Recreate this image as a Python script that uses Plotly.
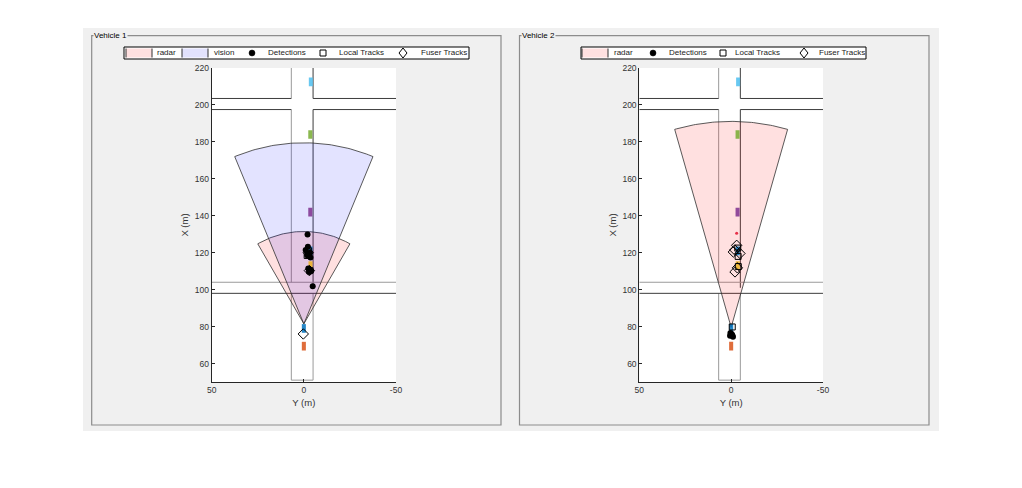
import numpy as np
import plotly.graph_objects as go

W, H = 1022, 488
OFF = 8  # page body margin in the browser

# ---------------- data ----------------
panel_titles = ["Vehicle 1", "Vehicle 2"]
x_ticks = [50, 0, -50]
x_tick_text = ["50", "0", "-50"]
y_ticks = [60, 80, 100, 120, 140, 160, 180, 200, 220]

# road geometry (m)
road_left_y = 6.8
road_right_y = -5.0
cross_a = [197.5, 203.5]
cross_b = [98.0, 104.0]
road_end_x = 51.0

# actors (vehicles): centre X, centre Y, colour
actor_x = [212.5, 184.0, 142.0, 121.0, 113.0, 79.0, 69.4]
actor_y = [-3.8, -3.5, -3.5, -3.6, -3.6, 0.0, 0.0]
actor_colors = ["#4DBEEE", "#77AC30", "#7E2F8E", "#0072BD", "#EDB120", "#0072BD", "#D95319"]
actor_len, actor_wid = 4.7, 2.2

# sensors: apex X, half-FOV (deg), range (m)
v1_radar = dict(x=81.5, half=30.0, rng=50.0)
v1_vision = dict(x=81.5, half=22.5, rng=98.0)
v2_radar = dict(x=79.6, half=16.0, rng=111.5)

# panel 1 marks
det1_x = [129.9, 123.2, 121.5, 120.0, 118.6, 117.4, 111.5, 110.2, 109.5, 101.8]
det1_y = [-2.0, -2.2, -1.0, -3.3, -1.8, -3.6, -2.4, -4.0, -2.9, -4.8]
loc1_x = [121.0, 118.5, 110.4]
loc1_y = [-2.6, -1.8, -3.2]
fus1_x = [120.0, 110.3, 76.0]
fus1_y = [-2.4, -3.0, 0.3]

# panel 2 marks
det2_x = [76.5, 75.5, 75.0, 76.0, 74.5]
det2_y = [0.4, -0.6, 0.6, -0.2, -1.0]
red2_x = [130.5]
red2_y = [-3.0]
loc2_x = [122.5, 118.0, 112.5, 79.8]
loc2_y = [-3.6, -3.8, -3.9, -0.6]
fus2_x = [124.0, 120.4, 119.6, 121.5, 109.6, 111.8]
fus2_y = [-3.0, -1.2, -4.8, -2.0, -2.1, -3.4]

# legend entries per panel
legend1_items = ["radar", "vision", "Detections", "Local Tracks", "Fuser Tracks"]
legend2_items = ["radar", "Detections", "Local Tracks", "Fuser Tracks"]

# ---------------- helpers ----------------
def px(x):
    return (x - OFF) / W

def py(y):
    return 1 - (y - OFF) / H

def sector(s):
    th = np.radians(np.linspace(s["half"], -s["half"], 60))
    xs = [s["x"]] + list(s["x"] + s["rng"] * np.cos(th)) + [s["x"]]
    ys = [0.0] + list(s["rng"] * np.sin(th)) + [0.0]
    return xs, ys

DARK = "#3c3c3c"
LIGHT = "#9a9a9a"
RADAR_FILL = "rgba(255,0,0,0.12)"
VISION_FILL = "rgba(0,0,255,0.11)"
RADAR_SOLID = "#ffe0e0"
VISION_SOLID = "#e2e2fd"

def road_segments():
    L, R = road_left_y, road_right_y
    return [
        ((L, 220), (L, cross_a[1]), LIGHT),
        ((L, cross_a[0]), (L, cross_b[1]), LIGHT),
        ((L, cross_b[0]), (L, road_end_x), LIGHT),
        ((R, 220), (R, cross_a[1]), DARK),
        ((R, cross_a[0]), (R, cross_b[0] + 3), DARK),
        ((R, cross_b[0]), (R, road_end_x), LIGHT),
        ((50, cross_a[1]), (L, cross_a[1]), DARK),
        ((R, cross_a[1]), (-50, cross_a[1]), DARK),
        ((50, cross_a[0]), (L, cross_a[0]), DARK),
        ((R, cross_a[0]), (-50, cross_a[0]), DARK),
        ((50, cross_b[1]), (-50, cross_b[1]), LIGHT),
        ((50, cross_b[0]), (-50, cross_b[0]), DARK),
        ((L, road_end_x), (R, road_end_x), LIGHT),
    ]

fig = go.Figure()
axes = [("x", "y"), ("x2", "y2")]

def add_panel(i, sectors, det, loc, fus, extra=None):
    xa, ya = axes[i]
    for (y0, x0), (y1, x1), c in road_segments():
        fig.add_trace(go.Scatter(x=[y0, y1], y=[x0, x1], mode="lines",
                                 line=dict(color=c, width=1), xaxis=xa, yaxis=ya,
                                 showlegend=False, hoverinfo="skip"))
    for name, s, fc in sectors:
        sx, sy = sector(s)
        fig.add_trace(go.Scatter(x=sy, y=sx, mode="lines", fill="toself",
                                 fillcolor=fc, line=dict(width=0.8, color="#303030"),
                                 name=name, xaxis=xa, yaxis=ya, showlegend=False,
                                 hoverinfo="skip"))
    for cx, cy, col in zip(actor_x, actor_y, actor_colors):
        rx = [cx - actor_len / 2, cx + actor_len / 2, cx + actor_len / 2, cx - actor_len / 2, cx - actor_len / 2]
        ry = [cy - actor_wid / 2, cy - actor_wid / 2, cy + actor_wid / 2, cy + actor_wid / 2, cy - actor_wid / 2]
        fig.add_trace(go.Scatter(x=ry, y=rx, mode="lines", fill="toself",
                                 fillcolor=col, opacity=0.85, line=dict(width=0, color=col),
                                 xaxis=xa, yaxis=ya, showlegend=False, hoverinfo="skip"))
    if extra is not None:
        fig.add_trace(go.Scatter(x=extra[1], y=extra[0], mode="markers",
                                 marker=dict(color="#e8304a", size=3),
                                 xaxis=xa, yaxis=ya, showlegend=False, hoverinfo="skip"))
    fig.add_trace(go.Scatter(x=det[1], y=det[0], mode="markers", name="Detections",
                             marker=dict(symbol="circle", color="black", size=6),
                             xaxis=xa, yaxis=ya, showlegend=False))
    fig.add_trace(go.Scatter(x=loc[1], y=loc[0], mode="markers", name="Local Tracks",
                             marker=dict(symbol="square-open", color="black", size=6,
                                         line=dict(width=1)),
                             xaxis=xa, yaxis=ya, showlegend=False))
    fig.add_trace(go.Scatter(x=fus[1], y=fus[0], mode="markers", name="Fuser Tracks",
                             marker=dict(symbol="diamond-open", color="black", size=8,
                                         line=dict(width=1)),
                             xaxis=xa, yaxis=ya, showlegend=False))

add_panel(0, [("radar", v1_radar, RADAR_FILL), ("vision", v1_vision, VISION_FILL)],
          (det1_x, det1_y), (loc1_x, loc1_y), (fus1_x, fus1_y))
add_panel(1, [("radar", v2_radar, RADAR_FILL)],
          (det2_x, det2_y), (loc2_x, loc2_y), (fus2_x, fus2_y), extra=(red2_x, red2_y))

FONT = "Liberation Sans, Arial, sans-serif"
TXT = "#333333"

x_domains = [[px(211.7), px(396.0)], [px(639.3), px(823.0)]]
y_domain = [py(382), py(68)]

layout = dict(
    width=W, height=H,
    margin=dict(l=0, r=0, t=0, b=0, autoexpand=False),
    paper_bgcolor="white", plot_bgcolor="rgba(0,0,0,0)",
    font=dict(family=FONT, size=9, color=TXT),
    hovermode=False, showlegend=False,
)

for i in range(2):
    sfx = "" if i == 0 else "2"
    layout["xaxis" + sfx] = dict(
        domain=x_domains[i], range=[50, -50], tickvals=x_ticks, ticktext=x_tick_text,
        ticks="inside", ticklen=3, tickcolor="#262626", showline=True, linecolor="#262626", linewidth=1,
        showgrid=False, zeroline=False, anchor="y" + sfx,
        tickfont=dict(size=8.5, color=TXT),
        title=dict(text="Y (m)", font=dict(size=9.5, color=TXT), standoff=5),
    )
    layout["yaxis" + sfx] = dict(
        domain=y_domain, range=[50, 220], tickvals=y_ticks,
        ticks="inside", ticklen=3, tickcolor="#262626", showline=True, linecolor="#262626", linewidth=1,
        showgrid=False, zeroline=False, anchor="x" + sfx,
        tickfont=dict(size=8.5, color=TXT),
        title=dict(text="X (m)", font=dict(size=9.5, color=TXT), standoff=4),
    )
layout["yaxis3"] = dict(overlaying="y", anchor="x", side="right", range=[50, 220],
                        tickvals=y_ticks, ticks="inside", ticklen=3, tickcolor="#262626",
                        showticklabels=False, showline=False, showgrid=False, zeroline=False)
layout["yaxis4"] = dict(overlaying="y2", anchor="x2", side="right", range=[50, 220],
                        tickvals=y_ticks, ticks="inside", ticklen=3, tickcolor="#262626",
                        showticklabels=False, showline=False, showgrid=False, zeroline=False)

shapes = [
    dict(type="rect", xref="paper", yref="paper", x0=px(83), x1=px(939), y0=py(431), y1=py(28),
         fillcolor="#f0f0f0", line=dict(width=0), layer="below"),
    dict(type="rect", xref="paper", yref="paper", x0=px(91.7), x1=px(501), y0=py(425), y1=py(35.7),
         fillcolor="rgba(0,0,0,0)", line=dict(color="#8c8c8c", width=1.2), layer="below"),
    dict(type="rect", xref="paper", yref="paper", x0=px(519.5), x1=px(929), y0=py(425), y1=py(35.7),
         fillcolor="rgba(0,0,0,0)", line=dict(color="#8c8c8c", width=1.2), layer="below"),
    dict(type="rect", xref="paper", yref="paper", x0=x_domains[0][0], x1=x_domains[0][1],
         y0=y_domain[0], y1=y_domain[1], fillcolor="white", line=dict(width=0), layer="below"),
    dict(type="rect", xref="paper", yref="paper", x0=x_domains[1][0], x1=x_domains[1][1],
         y0=y_domain[0], y1=y_domain[1], fillcolor="white", line=dict(width=0), layer="below"),
]

annotations = [
    dict(text=panel_titles[0], x=px(93), y=py(36), xref="paper", yref="paper",
         xanchor="left", yanchor="middle", showarrow=False, bgcolor="#f0f0f0",
         font=dict(size=8, color="black"), borderpad=0),
    dict(text=panel_titles[1], x=px(521), y=py(36), xref="paper", yref="paper",
         xanchor="left", yanchor="middle", showarrow=False, bgcolor="#f0f0f0",
         font=dict(size=8, color="black"), borderpad=0),
]

# ---------------- hand-drawn MATLAB-style legends ----------------
LEG_TOP, LEG_BOT = 47, 59
LEG_MID = (LEG_TOP + LEG_BOT) / 2

def legend_box(x0, x1, entries):
    shapes.append(dict(type="rect", xref="paper", yref="paper", x0=px(x0), x1=px(x1),
                       y0=py(LEG_BOT), y1=py(LEG_TOP), fillcolor="white",
                       line=dict(color="black", width=1), layer="above"))
    for kind, label, gx, tx in entries:
        if kind in ("radar", "vision"):
            col = RADAR_SOLID if kind == "radar" else VISION_SOLID
            shapes.append(dict(type="rect", xref="paper", yref="paper",
                               x0=px(gx), x1=px(gx + 26), y0=py(LEG_BOT - 1.5), y1=py(LEG_TOP + 1.5),
                               fillcolor=col, line=dict(width=0), layer="above"))
            for ex in (gx, gx + 26):
                shapes.append(dict(type="line", xref="paper", yref="paper",
                                   x0=px(ex), x1=px(ex), y0=py(LEG_BOT - 1.5), y1=py(LEG_TOP + 1.5),
                                   line=dict(color="#303030", width=1), layer="above"))
        elif kind == "det":
            shapes.append(dict(type="circle", xref="paper", yref="paper",
                               x0=px(gx - 3), x1=px(gx + 3), y0=py(LEG_MID + 3), y1=py(LEG_MID - 3),
                               fillcolor="black", line=dict(color="black", width=0.5), layer="above"))
        elif kind == "loc":
            shapes.append(dict(type="rect", xref="paper", yref="paper",
                               x0=px(gx - 3), x1=px(gx + 3), y0=py(LEG_MID + 3), y1=py(LEG_MID - 3),
                               fillcolor="rgba(0,0,0,0)", line=dict(color="black", width=1), layer="above"))
        elif kind == "fus":
            shapes.append(dict(type="path", xref="paper", yref="paper",
                               path="M {a},{b} L {c},{d} L {a},{e} L {f},{d} Z".format(
                                   a=px(gx), b=py(LEG_MID - 5), c=px(gx + 4), d=py(LEG_MID),
                                   e=py(LEG_MID + 5), f=px(gx - 4)),
                               fillcolor="rgba(0,0,0,0)", line=dict(color="black", width=1), layer="above"))
        annotations.append(dict(text=label, x=px(tx), y=py(LEG_MID), xref="paper", yref="paper",
                                xanchor="left", yanchor="middle", showarrow=False,
                                font=dict(size=8, color="#222222"), borderpad=0))

kinds1 = ["radar", "vision", "det", "loc", "fus"]
glyph1 = [126, 182, 252, 323, 403]
text1 = [156, 213, 267, 338, 420]
legend_box(124, 469, list(zip(kinds1, legend1_items, glyph1, text1)))

kinds2 = ["radar", "det", "loc", "fus"]
glyph2 = [582, 653, 723, 804]
text2 = [613, 668, 734, 818]
legend_box(581, 866, list(zip(kinds2, legend2_items, glyph2, text2)))

layout["shapes"] = shapes
layout["annotations"] = annotations

fig.update_layout(**layout)
fig.write_html("out.html")
